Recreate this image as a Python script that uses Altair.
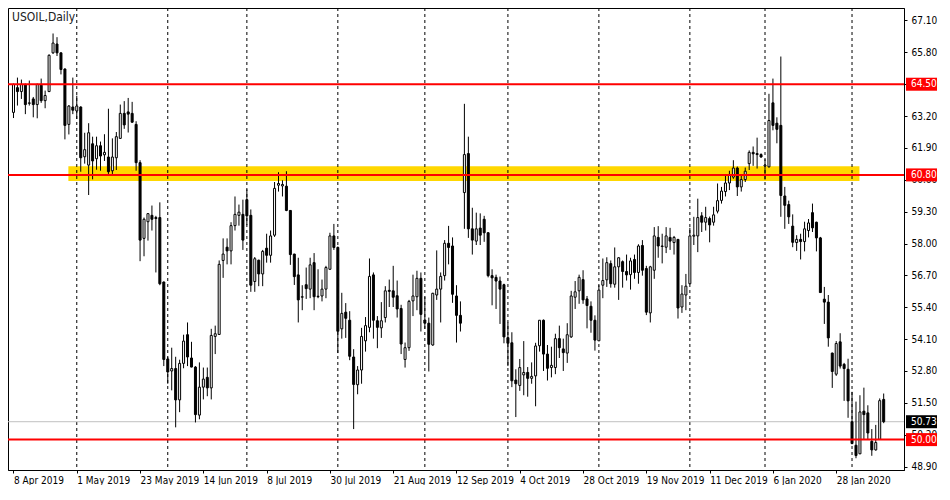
import altair as alt
import pandas as pd

# ---------------- data ----------------
chart_title = "USOIL,Daily"

opens = [63.35, 64.36, 64.20, 64.49, 63.72, 63.90, 63.67, 64.46, 63.83, 64.20,
         65.78, 66.14, 65.78, 65.12, 62.86, 63.57, 63.41, 63.57, 61.54, 61.20,
         62.07, 61.46, 61.99, 61.62, 61.53, 60.97, 61.50, 62.29, 63.31, 63.37,
         63.31, 62.86, 61.30, 58.21, 58.89, 59.15, 59.06, 59.06, 56.43, 53.29,
         52.80, 52.90, 51.62, 53.11, 54.28, 53.33, 52.96, 51.00, 52.14, 52.54,
         52.11, 54.21, 54.29, 57.31, 57.85, 57.70, 58.73, 59.15, 59.19, 59.79,
         59.15, 56.45, 57.32, 56.76, 57.81, 57.52, 58.34, 60.38, 60.35, 60.34,
         59.35, 57.57, 56.72, 55.81, 56.32, 56.14, 57.22, 55.85, 55.86, 56.14,
         56.95, 58.31, 57.84, 54.52, 55.20, 54.87, 53.37, 52.24, 52.84, 54.03,
         54.58, 56.72, 54.85, 54.56, 54.98, 56.09, 56.07, 55.87, 55.35, 53.27,
         53.75, 55.66, 55.83, 56.58, 54.88, 54.75, 53.86, 55.90, 56.14, 56.69,
         58.01, 57.90, 55.86, 55.07, 60.08, 61.67, 58.60, 58.10, 58.63, 58.99,
         58.44, 56.69, 56.62, 56.47, 56.32, 54.16, 53.95, 52.43, 52.21, 52.64,
         52.74, 52.50, 52.60, 53.83, 54.87, 53.49, 52.94, 52.94, 54.12, 53.70,
         53.53, 54.19, 55.81, 56.07, 56.53, 55.74, 55.44, 54.87, 54.03, 56.30,
         56.52, 57.18, 56.34, 57.05, 57.26, 56.86, 56.73, 57.35, 56.82, 57.92,
         56.98, 55.17, 56.91, 58.25, 57.88, 57.85, 58.25, 58.04, 58.17, 55.41,
         55.90, 56.36, 58.30, 58.31, 59.13, 58.87, 59.02, 58.87, 59.32, 59.76,
         60.12, 60.47, 60.71, 61.08, 60.31, 60.61, 61.26, 61.72, 61.67, 61.63,
         61.16, 61.13, 63.74, 62.91, 62.82, 59.94, 59.59, 58.71, 58.04, 58.17,
         58.08, 58.53, 59.26, 58.87, 58.23, 55.73, 55.61, 53.53, 52.67, 53.99,
         53.07, 52.87, 50.73, 49.77, 49.42, 51.16, 51.09, 49.93, 49.58, 50.01,
         51.64]

highs = [64.53, 64.77, 64.69, 64.53, 64.65, 63.98, 64.53, 64.73, 64.24, 65.72,
         66.57, 66.42, 65.80, 65.15, 63.65, 64.77, 64.03, 63.60, 62.52, 62.91,
         62.36, 62.36, 62.16, 62.46, 63.50, 62.29, 62.55, 63.67, 63.81, 63.94,
         63.78, 62.99, 61.40, 59.06, 59.23, 59.55, 59.13, 59.68, 56.45, 53.38,
         53.75, 53.38, 53.26, 54.28, 54.78, 53.99, 53.00, 53.15, 52.94, 52.94,
         54.52, 54.65, 57.31, 58.21, 58.21, 58.87, 59.92, 59.59, 59.79, 60.21,
         59.39, 57.45, 57.34, 57.74, 58.40, 58.53, 60.51, 60.91, 60.58, 60.95,
         59.36, 57.58, 57.42, 56.30, 57.02, 57.42, 57.61, 56.95, 56.53, 57.09,
         58.44, 58.80, 57.88, 55.99, 55.57, 55.24, 53.69, 53.00, 54.56, 55.00,
         57.39, 56.82, 55.04, 55.61, 56.26, 56.53, 57.09, 56.49, 55.50, 53.96,
         55.70, 56.73, 56.89, 56.82, 55.83, 54.98, 55.99, 57.72, 56.82, 58.14,
         58.72, 58.25, 56.30, 55.64, 63.70, 62.36, 59.46, 59.26, 59.23, 59.13,
         58.47, 56.95, 56.73, 56.65, 56.36, 54.78, 54.38, 52.87, 53.29, 54.02,
         52.96, 53.15, 53.95, 54.87, 54.90, 53.86, 53.79, 54.32, 54.65, 54.12,
         54.75, 56.07, 56.47, 56.73, 56.91, 55.86, 55.64, 55.07, 56.30, 57.39,
         57.44, 57.31, 57.84, 57.44, 57.31, 57.55, 57.42, 57.55, 57.97, 58.14,
         57.09, 57.09, 58.67, 58.71, 58.40, 58.67, 58.64, 58.31, 58.18, 56.30,
         56.76, 58.64, 59.09, 59.83, 59.28, 59.50, 59.10, 59.50, 60.45, 60.31,
         60.78, 60.97, 61.40, 61.14, 60.78, 61.10, 61.80, 61.96, 62.32, 61.68,
         61.44, 64.11, 64.73, 63.15, 65.63, 60.31, 59.75, 59.19, 58.34, 58.40,
         58.89, 59.00, 59.63, 58.89, 58.27, 56.23, 55.90, 53.55, 54.02, 54.34,
         53.13, 53.30, 51.95, 51.55, 51.81, 52.12, 51.40, 50.43, 50.60, 51.68,
         51.88]

lows = [63.12, 63.63, 63.90, 63.28, 63.63, 63.15, 63.11, 63.74, 63.52, 64.18,
        65.74, 65.65, 64.90, 62.25, 62.45, 63.28, 63.08, 60.93, 61.26, 59.98,
        60.62, 61.01, 60.97, 61.37, 60.84, 60.84, 61.00, 62.27, 62.68, 62.53,
        62.93, 60.97, 57.28, 57.48, 58.12, 58.53, 56.82, 56.30, 53.00, 52.28,
        52.01, 50.50, 51.12, 52.91, 53.00, 52.95, 50.70, 50.83, 51.64, 51.77,
        51.64, 53.49, 54.27, 56.60, 57.15, 57.15, 58.53, 58.73, 57.74, 58.76,
        56.03, 56.03, 56.26, 56.26, 57.22, 57.22, 58.27, 60.12, 59.92, 59.32,
        57.13, 56.31, 54.78, 55.28, 55.74, 55.77, 55.28, 55.77, 55.64, 55.77,
        56.93, 57.74, 53.53, 54.12, 54.15, 53.24, 50.43, 51.85, 52.28, 53.59,
        54.38, 54.12, 53.73, 54.15, 54.78, 55.41, 55.41, 54.98, 53.49, 52.94,
        53.62, 55.04, 55.28, 54.41, 54.52, 52.78, 53.83, 55.70, 54.78, 56.49,
        57.15, 55.58, 53.96, 54.41, 58.60, 58.23, 57.55, 57.94, 57.94, 58.07,
        56.62, 55.48, 55.33, 54.72, 53.93, 53.00, 52.14, 50.92, 51.99, 51.81,
        51.75, 52.28, 51.36, 53.59, 52.80, 52.41, 52.54, 52.67, 53.33, 52.80,
        53.13, 54.15, 55.33, 55.54, 55.54, 54.54, 54.36, 53.63, 54.03, 55.77,
        56.23, 56.20, 56.20, 55.70, 56.20, 56.49, 56.12, 56.56, 56.36, 56.69,
        55.08, 54.78, 56.56, 57.42, 57.19, 57.61, 57.74, 57.55, 54.94, 55.17,
        55.28, 56.34, 57.94, 57.65, 58.47, 58.53, 58.05, 58.73, 59.23, 59.63,
        59.92, 60.18, 60.64, 59.94, 60.12, 60.51, 61.00, 61.17, 61.06, 61.50,
        60.61, 61.10, 62.62, 62.09, 59.09, 58.60, 58.80, 57.85, 57.70, 57.35,
        57.68, 58.25, 58.47, 57.68, 55.99, 54.72, 53.79, 52.11, 52.60, 52.90,
        51.58, 50.89, 49.81, 49.24, 49.41, 50.01, 50.01, 49.34, 49.55, 49.99,
        50.67]

closes = [64.49, 64.20, 64.49, 63.67, 63.74, 63.67, 64.49, 63.83, 64.04, 65.68,
          66.18, 65.78, 65.10, 62.82, 63.61, 63.44, 63.61, 61.50, 61.83, 62.52,
          61.37, 61.99, 61.57, 61.72, 60.93, 61.53, 62.36, 63.31, 62.84, 63.28,
          62.95, 61.30, 58.14, 58.99, 59.22, 58.99, 59.02, 56.36, 53.27, 52.76,
          52.90, 51.62, 53.11, 54.02, 53.37, 52.96, 51.02, 52.14, 52.47, 52.11,
          54.25, 54.32, 57.15, 57.57, 57.70, 58.73, 59.19, 59.28, 58.14, 59.13,
          56.30, 57.38, 56.76, 57.68, 57.52, 58.31, 60.25, 60.45, 60.41, 59.35,
          57.55, 56.65, 55.70, 55.83, 56.16, 57.13, 55.83, 55.83, 56.14, 57.02,
          58.31, 57.84, 54.42, 55.15, 54.95, 53.40, 52.25, 52.84, 54.21, 54.65,
          56.66, 54.87, 54.58, 54.85, 56.07, 56.05, 55.81, 55.33, 53.90, 53.75,
          55.64, 55.86, 56.58, 55.11, 54.75, 53.89, 55.97, 56.14, 56.66, 58.01,
          57.84, 55.93, 55.07, 54.75, 61.63, 58.60, 58.14, 58.60, 58.34, 58.44,
          56.69, 56.60, 56.47, 56.14, 54.19, 53.93, 52.40, 52.28, 52.94, 52.74,
          52.50, 52.58, 53.82, 54.87, 53.49, 52.91, 53.03, 54.12, 53.75, 53.55,
          54.28, 55.86, 56.03, 56.62, 55.70, 55.47, 54.87, 54.06, 56.10, 56.49,
          57.22, 56.36, 57.05, 57.42, 56.86, 56.72, 57.29, 56.82, 57.90, 56.91,
          55.20, 57.05, 58.31, 57.90, 57.90, 58.31, 58.10, 58.25, 55.37, 55.94,
          56.26, 58.31, 58.34, 59.06, 58.87, 59.06, 58.76, 59.17, 59.75, 60.14,
          60.47, 60.78, 61.08, 60.31, 60.61, 60.95, 61.72, 61.66, 61.63, 61.53,
          61.20, 63.02, 62.82, 62.66, 59.96, 59.56, 59.09, 58.05, 58.17, 58.08,
          58.60, 58.84, 58.64, 58.23, 56.00, 55.61, 54.15, 52.78, 53.92, 53.00,
          52.90, 51.58, 49.84, 49.35, 51.13, 51.02, 50.27, 49.58, 49.88, 51.59,
          50.73]

x_label_bars = [0, 16, 32, 48, 64, 80, 96, 112, 128, 144, 160, 176, 192, 208]
x_label_texts = ["8 Apr 2019", "1 May 2019", "23 May 2019", "14 Jun 2019",
                 "8 Jul 2019", "30 Jul 2019", "21 Aug 2019", "12 Sep 2019",
                 "4 Oct 2019", "28 Oct 2019", "19 Nov 2019", "11 Dec 2019",
                 "6 Jan 2020", "28 Jan 2020"]
month_start_bars = [16, 39, 59, 82, 104, 125, 148, 171, 190, 212]
y_tick_values = [48.90, 50.20, 51.50, 52.80, 54.10, 55.40, 56.70, 58.00,
                 59.30, 60.60, 61.90, 63.20, 64.50, 65.80, 67.10]
level_prices = [64.50, 60.80, 50.00]
last_price = 50.73
zone_low, zone_high = 60.55, 61.15
zone_start_bar, zone_end_bar = 13.875, 213.875

# ---------------- layout / style ----------------
W, H = 896, 462
X_DOMAIN = [-0.125, 223.875]
Y_DOMAIN = [48.76, 67.61]
FONT = "DejaVu Sans Condensed, Liberation Sans, sans-serif"
FS = 10

candles = pd.DataFrame({
    "bar": list(range(len(opens))),
    "open": opens, "high": highs, "low": lows, "close": closes,
})
seps = pd.DataFrame({"bar": month_start_bars})
levels = pd.DataFrame({"price": level_prices})
zone = pd.DataFrame({"bar": [zone_start_bar], "bar_end": [zone_end_bar],
                     "lo": [zone_low], "hi": [zone_high]})
boxes = pd.DataFrame({"price": level_prices + [last_price],
                      "bg": ["red", "red", "red", "black"]})
gray = pd.DataFrame({"price": [last_price]})
title_df = pd.DataFrame({"t": [chart_title]})

xscale = alt.Scale(domain=X_DOMAIN, nice=False, zero=False)
yscale = alt.Scale(domain=Y_DOMAIN, nice=False, zero=False)

label_expr = ("[" + ",".join("'" + t + "'" for t in x_label_texts) + "][indexof(["
              + ",".join(str(b) for b in x_label_bars) + "], datum.value)]")

xaxis = alt.Axis(values=x_label_bars, labelExpr=label_expr, title=None, grid=False,
                 labelAlign="left", labelBaseline="top", labelPadding=2, tickSize=3,
                 labelFlush=False, labelOverlap=False, labelFont=FONT, labelFontSize=FS,
                 labelColor="black", tickColor="black", domainColor="black")
yaxis = alt.Axis(orient="right", values=y_tick_values, format=".2f", title=None,
                 grid=False, tickSize=3, labelPadding=4, labelFlush=False,
                 labelOverlap=False, labelFont=FONT, labelFontSize=FS,
                 labelColor="black", tickColor="black", domainColor="black",
                 labelBaseline="middle")


def X(field):
    return alt.X(field, type="quantitative", scale=xscale, axis=xaxis)


def Y(field):
    return alt.Y(field, type="quantitative", scale=yscale, axis=yaxis)


band = alt.Chart(zone).mark_rect(color="#FFD700").encode(
    x=X("bar"), x2="bar_end:Q", y=Y("lo"), y2="hi:Q")

separators = alt.Chart(seps).mark_rule(color="black", strokeWidth=1,
                                       strokeDash=[3, 3]).encode(x=X("bar"))

gray_line = alt.Chart(gray).mark_rule(color="#C0C0C0", strokeWidth=1).encode(y=Y("price"))

wicks = alt.Chart(candles).mark_rule(color="black", strokeWidth=1).encode(
    x=X("bar"), y=Y("low"), y2="high:Q")

bodies = alt.Chart(candles).mark_bar(size=2, stroke="black", strokeWidth=1).encode(
    x=X("bar"), y=Y("open"), y2="close:Q",
    fill=alt.condition("datum.close >= datum.open", alt.value("white"), alt.value("black")))

red_lines = alt.Chart(levels).mark_rule(color="#FF0000", strokeWidth=2).encode(y=Y("price"))

price_boxes = alt.Chart(boxes).mark_tick(orient="horizontal", size=31, thickness=13,
                                         opacity=1).encode(
    y=Y("price"), x=alt.value(W + 17.5), color=alt.Color("bg:N", scale=None))

price_texts = alt.Chart(boxes).mark_text(align="left", baseline="middle", font=FONT,
                                         fontSize=FS, color="white").encode(
    y=Y("price"), x=alt.value(W + 7), text=alt.Text("price:Q", format=".2f"))

title = alt.Chart(title_df).mark_text(align="left", baseline="middle", font=FONT,
                                      fontSize=12, color="#202020").encode(
    x=alt.value(4), y=alt.value(9), text="t:N")

chart = alt.layer(
    band, separators, gray_line, wicks, bodies, red_lines, price_boxes, price_texts, title
).properties(
    width=W, height=H,
    padding={"left": 0, "top": 0, "right": 36, "bottom": 15},
    autosize=alt.AutoSizeParams(type="none"),
    background="white",
).configure_view(stroke="black", strokeWidth=1)

chart.save("out.html", embed_options={"renderer": "svg", "actions": False})
